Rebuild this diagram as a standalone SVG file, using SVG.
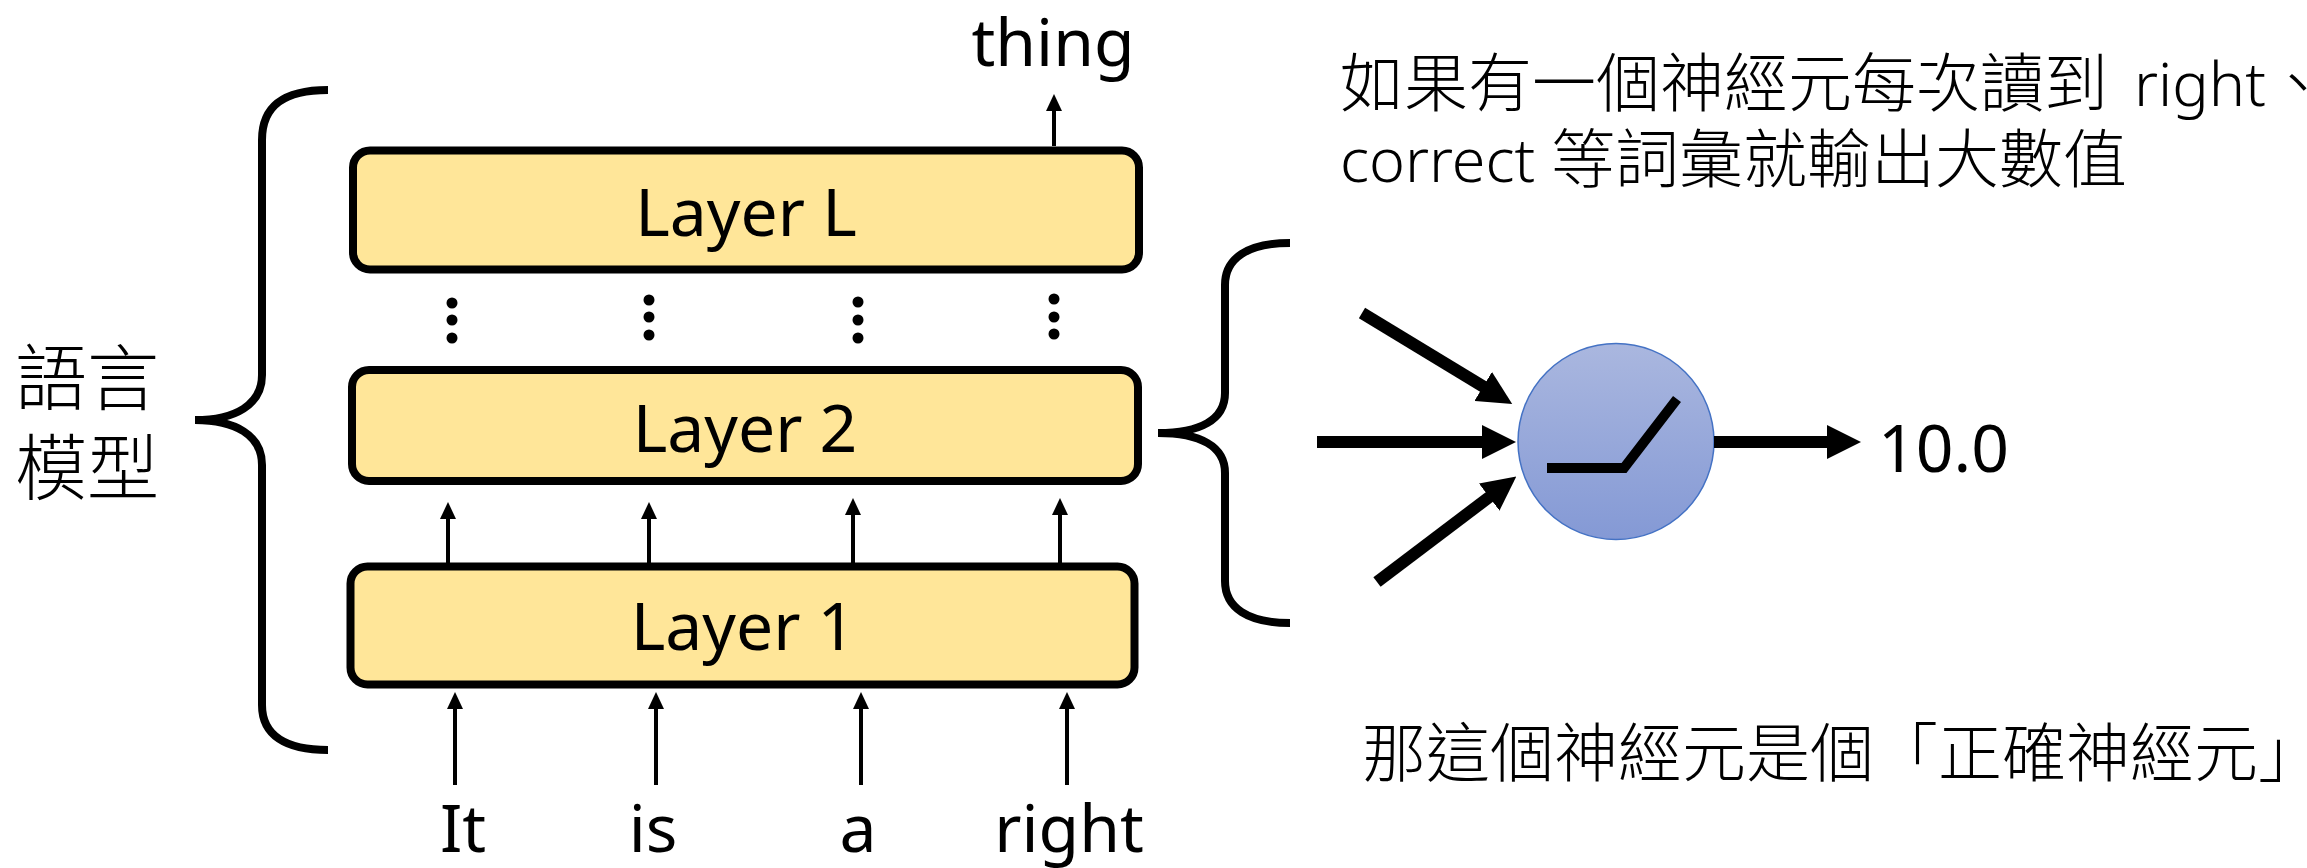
<svg xmlns="http://www.w3.org/2000/svg" width="2307" height="868" viewBox="0 0 2307 868">
  <style>
    .lat { font-family: "Noto Sans", "Noto Sans CJK TC", sans-serif; font-size: 66px; fill: #000; }
    .cjk { font-family: "Noto Sans", "Noto Sans CJK TC", sans-serif; font-size: 64px; font-weight: 300; fill: #000; }
    .big { font-family: "Noto Sans CJK TC", sans-serif; font-size: 72px; font-weight: 300; fill: #000; }
    .word { font-size: 61px; }
    .layer rect { fill: #FFE699; stroke: #000; stroke-width: 8; }
    .thin { stroke: #000; stroke-width: 4; fill: none; marker-end: url(#headThin); }
    .thick { stroke: #000; stroke-width: 12; fill: none; marker-end: url(#headThick); }
    .brace { stroke: #000; stroke-width: 8; fill: none; }
    .dot { fill: #000; }
  </style>
  <defs>
    <marker id="headThin" markerUnits="userSpaceOnUse" viewBox="0 0 17 16" markerWidth="17" markerHeight="16" refX="1" refY="8" orient="auto">
      <path d="M0,0 L17,8 L0,16 z" fill="#000"/>
    </marker>
    <marker id="headThick" markerUnits="userSpaceOnUse" viewBox="0 0 34 34" markerWidth="34" markerHeight="34" refX="1" refY="17" orient="auto">
      <path d="M0,0 L34,17 L0,34 z" fill="#000"/>
    </marker>
    <linearGradient id="neuronFill" x1="0" y1="0" x2="0" y2="1">
      <stop offset="0" stop-color="#AAB7DF"/>
      <stop offset="1" stop-color="#8499D5"/>
    </linearGradient>
  </defs>

  <!-- language model stack -->
  <g id="layerL" class="layer">
    <rect x="353" y="150.5" width="786" height="119" rx="17"/>
    <text class="lat" x="746" y="236" text-anchor="middle">Layer L</text>
  </g>
  <g id="layer2" class="layer">
    <rect x="352" y="370" width="786" height="111" rx="17"/>
    <text class="lat" x="745" y="452" text-anchor="middle">Layer 2</text>
  </g>
  <g id="layer1" class="layer">
    <rect x="350.5" y="566.5" width="784" height="118" rx="17"/>
    <text class="lat" x="743" y="650" text-anchor="middle">Layer 1</text>
  </g>

  <g id="ellipsis">
    <circle class="dot" cx="452" cy="303" r="5.5"/><circle class="dot" cx="452" cy="320" r="5.5"/><circle class="dot" cx="452" cy="338" r="5.5"/>
    <circle class="dot" cx="649" cy="300" r="5.5"/><circle class="dot" cx="649" cy="317" r="5.5"/><circle class="dot" cx="649" cy="335" r="5.5"/>
    <circle class="dot" cx="858" cy="302" r="5.5"/><circle class="dot" cx="858" cy="320" r="5.5"/><circle class="dot" cx="858" cy="338" r="5.5"/>
    <circle class="dot" cx="1054" cy="299" r="5.5"/><circle class="dot" cx="1054" cy="317" r="5.5"/><circle class="dot" cx="1054" cy="334" r="5.5"/>
  </g>

  <g id="tokens">
    <text class="lat" x="463" y="852" text-anchor="middle">It</text>
    <text class="lat" x="653" y="852" text-anchor="middle">is</text>
    <text class="lat" x="858" y="852" text-anchor="middle">a</text>
    <text class="lat" x="1069" y="852" text-anchor="middle">right</text>
    <text class="lat" x="1053" y="66" text-anchor="middle">thing</text>
  </g>

  <g id="modelLabel">
    <path class="brace" d="M328,90 C285,90 262,105 262,140 L262,375 C262,405 235,420 195,420 C235,420 262,435 262,465 L262,705 C262,735 285,750 328,750"/>
    <text class="big" x="15" y="404">語言</text>
    <text class="big" x="15" y="494">模型</text>
  </g>

  <!-- single neuron detail -->
  <g id="neuron">
    <circle cx="1616" cy="441.5" r="98" fill="url(#neuronFill)" stroke="#4472C4" stroke-width="1.5"/>
    <polyline points="1547,468 1624,468 1677,399" fill="none" stroke="#000" stroke-width="10"/>
  </g>
  <g id="neuronBrace">
    <path class="brace" d="M1290,243 C1248,243 1225,258 1225,285 L1225,393 C1225,420 1200,433 1158,433 C1200,433 1225,446 1225,473 L1225,581 C1225,608 1248,623 1290,623"/>
  </g>
  <g id="output">
    <text class="lat" x="1878" y="472">10.0</text>
  </g>

  <g id="notes">
    <text class="cjk" x="1340" y="106">如果有一個神經元每次讀到 <tspan class="word" x="2134">right</tspan>、</text>
    <text class="cjk" x="1340" y="182"><tspan class="word">correct</tspan> <tspan x="1551">等詞彙就輸出大數值</tspan></text>
    <text class="cjk" x="1362" y="776">那這個神經元是個「正確神經元」</text>
  </g>

  <g id="connectors">
    <line class="thin" x1="1054" y1="146" x2="1054" y2="110"/>
    <line class="thin" x1="448" y1="563" x2="448" y2="518"/>
    <line class="thin" x1="649" y1="563" x2="649" y2="518"/>
    <line class="thin" x1="853" y1="563" x2="853" y2="514"/>
    <line class="thin" x1="1060" y1="563" x2="1060" y2="514"/>
    <line class="thin" x1="455" y1="785" x2="455" y2="708"/>
    <line class="thin" x1="656" y1="785" x2="656" y2="708"/>
    <line class="thin" x1="861" y1="785" x2="861" y2="708"/>
    <line class="thin" x1="1067" y1="785" x2="1067" y2="708"/>
    <line class="thick" x1="1362" y1="313" x2="1484" y2="387"/>
    <line class="thick" x1="1317" y1="442" x2="1483" y2="442"/>
    <line class="thick" x1="1377" y1="582" x2="1490" y2="496.5"/>
    <line class="thick" x1="1714" y1="442" x2="1828" y2="442"/>
  </g>
</svg>
